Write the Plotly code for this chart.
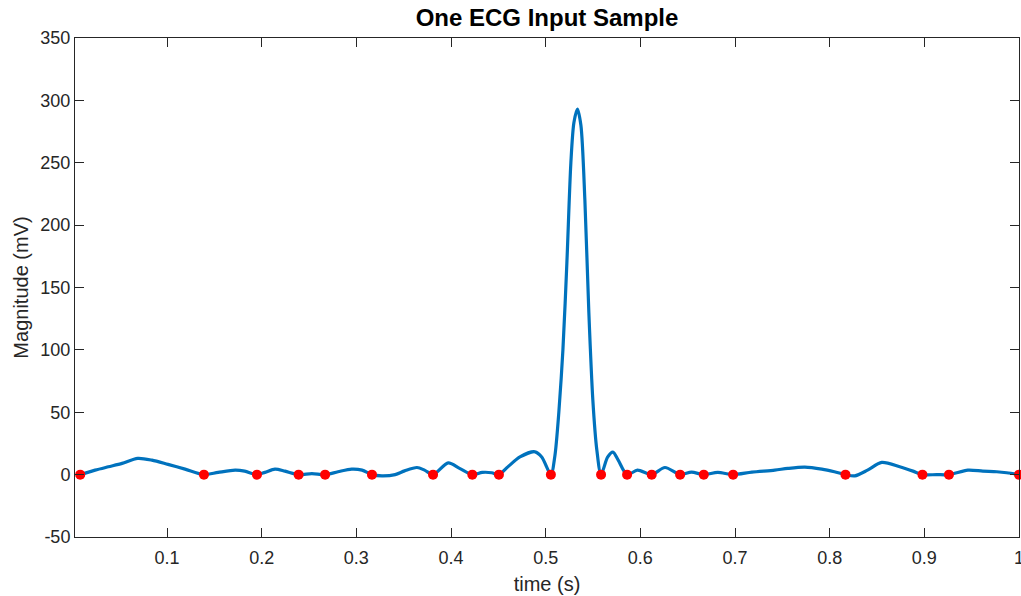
import plotly.graph_objects as go

# Signal readings (time in s, magnitude in mV)
time_s = [0.0083, 0.024, 0.038, 0.0525, 0.069, 0.084, 0.101, 0.119, 0.139, 0.154,
          0.172, 0.182, 0.195, 0.2035, 0.214, 0.2246, 0.239, 0.253, 0.267, 0.2806,
          0.295, 0.306, 0.3165, 0.327, 0.341, 0.351, 0.364, 0.372, 0.381, 0.397,
          0.409, 0.4225, 0.433, 0.443, 0.4506, 0.460, 0.4728, 0.4886, 0.496, 0.5055,
          0.5097, 0.5139, 0.5182, 0.5224, 0.5266, 0.5298, 0.5335, 0.5372, 0.5414, 0.5456,
          0.5498, 0.554, 0.5585, 0.5654, 0.571, 0.5766, 0.586, 0.597, 0.612, 0.626,
          0.642, 0.654, 0.667, 0.6818, 0.698, 0.7178, 0.742, 0.7558, 0.7737, 0.7917,
          0.805, 0.8167, 0.8265, 0.840, 0.855, 0.874, 0.888, 0.898, 0.913, 0.926,
          0.946, 0.9617, 0.9765, 0.987, 1.0]
magnitude_mv = [0, 3.6, 6.3, 9, 13, 11.6, 8.2, 4.4, 0, 1.8,
                3.6, 2.8, 0, 1.8, 4.4, 2.8, 0, 0.8, 0, 2.3,
                4.4, 3.6, 0, -1, 0, 3, 5.7, 3.6, 0, 9.4,
                5, 0, 1.8, 1.5, 0, 6.2, 14.2, 18.3, 14, 0,
                15, 50, 100, 170, 250, 282, 293, 280, 220, 130,
                60, 20, 0, 14, 18, 11.6, 0, 3.6, 0, 5.7,
                0, 2, 0, 1.8, 0, 2, 3.6, 5, 6, 4.4,
                2.3, 0, -1, 3.6, 9.8, 6.3, 2.8, 0, 0, 0,
                3.6, 2.8, 2.3, 1.5, 0]

# Marked zero points
marker_time_s = [0.0083, 0.139, 0.195, 0.239, 0.267, 0.3165, 0.381, 0.4225, 0.4506, 0.5055,
                 0.5585, 0.586, 0.612, 0.642, 0.667, 0.698, 0.8167, 0.898, 0.926, 1.0]
marker_mv = [0] * len(marker_time_s)

x_tickvals = [0.1, 0.2, 0.3, 0.4, 0.5, 0.6, 0.7, 0.8, 0.9, 1.0]
x_ticktext = ["0.1", "0.2", "0.3", "0.4", "0.5", "0.6", "0.7", "0.8", "0.9", "1"]
y_tickvals = [-50, 0, 50, 100, 150, 200, 250, 300, 350]
y_ticktext = ["-50", "0", "50", "100", "150", "200", "250", "300", "350"]

axis_color = "#262626"
font_family = "Liberation Sans, Arial, Helvetica, sans-serif"

fig = go.Figure()
fig.add_trace(go.Scatter(
    x=time_s, y=magnitude_mv, mode="lines",
    line=dict(color="#0072BD", width=3.2, shape="spline", smoothing=0.8),
    showlegend=False, hoverinfo="skip", cliponaxis=True))
fig.add_trace(go.Scatter(
    x=marker_time_s, y=marker_mv, mode="markers",
    marker=dict(color="#FF0000", size=10),
    showlegend=False, cliponaxis=False))

axis_common = dict(
    showline=True, linecolor=axis_color, linewidth=1, mirror="allticks",
    ticks="inside", ticklen=9, tickwidth=1, tickcolor=axis_color,
    showgrid=False, zeroline=False, ticklabeloverflow="allow", automargin=False,
    tickfont=dict(family=font_family, size=18, color=axis_color),
)

fig.update_layout(
    width=1021, height=596,
    margin=dict(l=75, r=2, t=38, b=59),
    paper_bgcolor="white", plot_bgcolor="white",
    title=dict(text="<b>One ECG Input Sample</b>", x=0.5, xref="paper",
               y=1 - 18 / 596, yref="container", yanchor="middle", xanchor="center",
               font=dict(family=font_family, size=24, color="#000000")),
    xaxis=dict(range=[1 / 360, 1.0], tickvals=x_tickvals, ticktext=x_ticktext,
               ticklabelstandoff=4,
               title=dict(text="time (s)", standoff=10,
                          font=dict(family=font_family, size=20, color=axis_color)),
               **axis_common),
    yaxis=dict(range=[-50, 350], tickvals=y_tickvals, ticktext=y_ticktext,
               title=dict(text="Magnitude (mV)", standoff=6,
                          font=dict(family=font_family, size=20, color=axis_color)),
               **axis_common),
)

fig.write_html("out.html")
